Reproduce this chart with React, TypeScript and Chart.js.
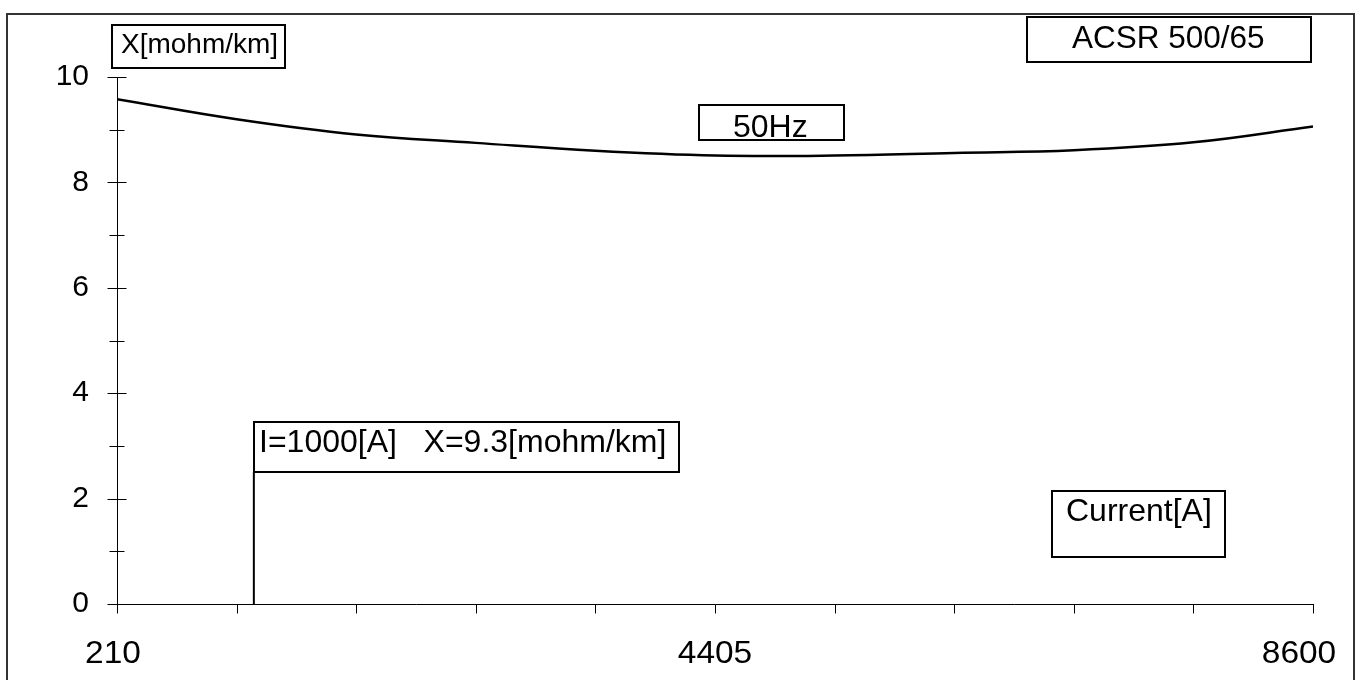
import React, { useEffect, useRef } from "react";
import { Chart, registerables } from "chart.js";

Chart.register(...registerables);

// Data
const currentA = [210, 1049, 1888, 2727, 3566, 4405, 5244, 6083, 6922, 7761, 8600];
const reactance = [9.58, 9.2, 8.91, 8.75, 8.6, 8.51, 8.51, 8.56, 8.61, 8.76, 9.06];
const xTickValues = [210, 1049, 1888, 2727, 3566, 4405, 5244, 6083, 6922, 7761, 8600];
const xTickLabels = [210, 4405, 8600];
const xLabelShift = [-4, 0, -14];
const yMajorTicks = [0, 2, 4, 6, 8, 10];
const cursorCurrent = [1170, 1170];
const cursorReactance = [0, 2.5];

const FONT = '"Liberation Sans", Arial, sans-serif';

type Box = { text: string; x: number; y: number; w: number; h: number; tx: number; ty: number; size: number };
const boxes: Box[] = [
  { text: "X[mohm/km]", x: 112, y: 25, w: 173, h: 43, tx: 121, ty: 53, size: 28 },
  { text: "ACSR 500/65", x: 1027, y: 17, w: 284, h: 45, tx: 1072, ty: 48, size: 31.5 },
  { text: "50Hz", x: 699, y: 105, w: 145, h: 35, tx: 733, ty: 137, size: 32 },
  { text: "Current[A]", x: 1052, y: 491, w: 173, h: 66, tx: 1066, ty: 521, size: 32 },
  { text: "I=1000[A]   X=9.3[mohm/km]", x: 254, y: 422, w: 425, h: 50, tx: 259, ty: 452, size: 32 },
];

const decorPlugin = {
  id: "decor",
  afterDraw(chart: any) {
    const ctx = chart.ctx as CanvasRenderingContext2D;
    const xs = chart.scales.x;
    const ys = chart.scales.y;
    ctx.save();
    // tick marks crossing the y axis
    ctx.strokeStyle = "#000";
    ctx.lineWidth = 1;
    const ax = Math.round(xs.left) + 0.5;
    ys.ticks.forEach((t: any) => {
      const py = Math.round(ys.getPixelForValue(t.value)) + 0.5;
      const major = yMajorTicks.includes(t.value);
      ctx.beginPath();
      ctx.moveTo(ax - (major ? 10 : 8), py);
      ctx.lineTo(ax + (major ? 9 : 7), py);
      ctx.stroke();
    });
    const by = Math.round(ys.bottom) + 0.5;
    xs.ticks.forEach((t: any) => {
      const px = Math.round(xs.getPixelForValue(t.value)) + 0.5;
      ctx.beginPath();
      ctx.moveTo(px, by);
      ctx.lineTo(px, by + 9);
      ctx.stroke();
    });
    // x tick labels (slightly wide face, as in the reference)
    ctx.fillStyle = "#000";
    ctx.font = `31px ${FONT}`;
    ctx.textAlign = "center";
    ctx.textBaseline = "alphabetic";
    xTickLabels.forEach((v, i) => {
      const px = xs.getPixelForValue(v) + xLabelShift[i];
      ctx.save();
      ctx.translate(px, by + 58);
      ctx.scale(1.08, 1);
      ctx.fillText(String(v), 0, 0);
      ctx.restore();
    });
    // boxes with labels
    ctx.lineWidth = 2;
    boxes.forEach((b) => {
      ctx.fillStyle = "#fff";
      ctx.fillRect(b.x, b.y, b.w, b.h);
      ctx.strokeStyle = "#000";
      ctx.strokeRect(b.x, b.y, b.w, b.h);
      ctx.fillStyle = "#000";
      ctx.font = `${b.size}px ${FONT}`;
      ctx.textAlign = "left";
      ctx.textBaseline = "alphabetic";
      ctx.fillText(b.text, b.tx, b.ty);
    });
    // outer frame (bottom edge lies below the visible area)
    ctx.strokeStyle = "#333";
    ctx.lineWidth = 2;
    ctx.strokeRect(7, 14, 1347, 672);
    ctx.restore();
  },
};

export default function App() {
  const ref = useRef<HTMLCanvasElement | null>(null);
  useEffect(() => {
    if (!ref.current) return;
    const chart = new Chart(ref.current, {
      type: "line",
      data: {
        datasets: [
          {
            data: currentA.map((x, i) => ({ x, y: reactance[i] })),
            borderColor: "#000",
            borderWidth: 2.5,
            pointRadius: 0,
            tension: 0.4,
            fill: false,
          },
          {
            data: cursorCurrent.map((x, i) => ({ x, y: cursorReactance[i] })),
            borderColor: "#000",
            borderWidth: 2,
            pointRadius: 0,
            tension: 0,
            fill: false,
          },
        ],
      },
      options: {
        animation: false,
        responsive: false,
        maintainAspectRatio: false,
        layout: { padding: { left: 0, right: 48, top: 77, bottom: 0 } },
        plugins: { legend: { display: false }, tooltip: { enabled: false } },
        scales: {
          x: {
            type: "linear",
            min: 210,
            max: 8600,
            afterBuildTicks: (s: any) => {
              s.ticks = xTickValues.map((v) => ({ value: v }));
            },
            afterFit: (s: any) => {
              s.height = 76;
              s.paddingLeft = 0;
              s.paddingRight = 0;
            },
            grid: { display: false, drawTicks: false },
            border: { display: true, color: "#000", width: 1 },
            ticks: { display: false, autoSkip: false, maxRotation: 0 },
          },
          y: {
            type: "linear",
            min: 0,
            max: 10,
            afterFit: (s: any) => {
              s.width = 117;
            },
            grid: { display: false, drawTicks: false },
            border: { display: true, color: "#000", width: 1 },
            ticks: {
              stepSize: 1,
              autoSkip: false,
              padding: 28,
              color: "#000",
              font: { family: FONT, size: 30 },
              callback: (v: any) => (yMajorTicks.includes(Number(v)) ? String(v) : ""),
            },
          },
        },
      },
      plugins: [decorPlugin],
    } as any);
    return () => chart.destroy();
  }, []);
  return (
    <div style={{ position: "fixed", left: 0, top: 0, width: 1361, height: 680, background: "#fff" }}>
      <canvas ref={ref} width={1361} height={680} style={{ display: "block" }} />
    </div>
  );
}
